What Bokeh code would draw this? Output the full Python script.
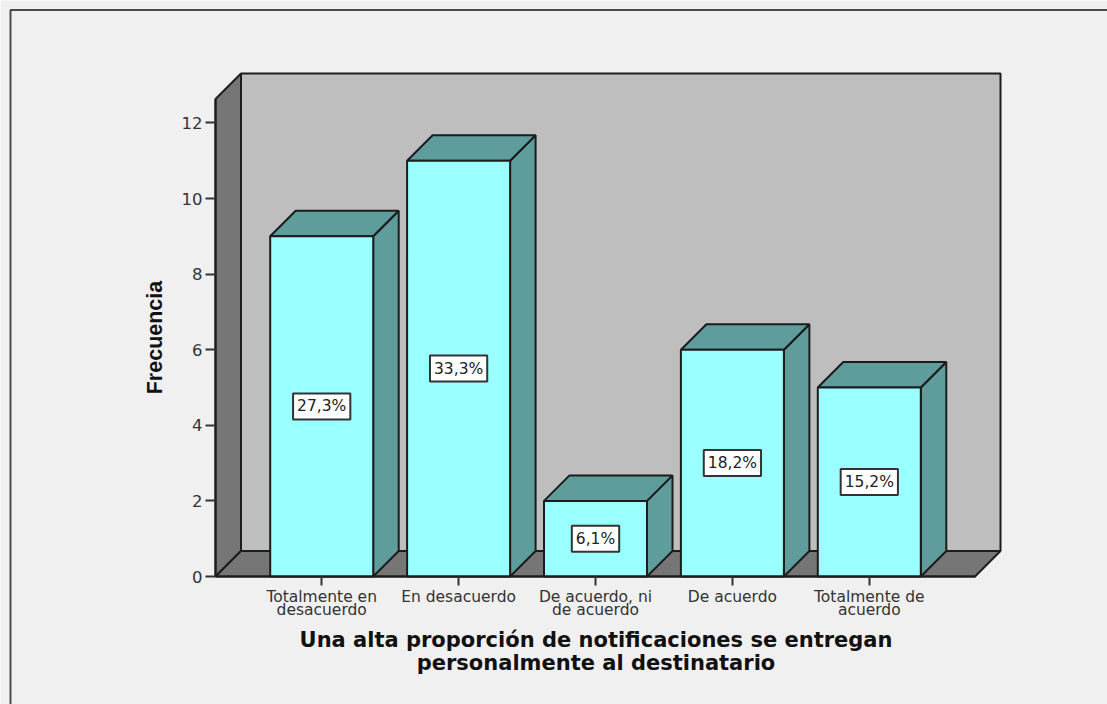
from bokeh.plotting import figure
from bokeh.models import ColumnDataSource, FixedTicker, LinearAxis
from bokeh.core.properties import value
from bokeh.embed import file_html
from bokeh.resources import INLINE

categorias = ["Totalmente en\ndesacuerdo", "En desacuerdo", "De acuerdo, ni\nde acuerdo", "De acuerdo", "Totalmente de\nacuerdo"]
frecuencia = [9, 11, 2, 6, 5]
porcentaje = ["27,3%", "33,3%", "6,1%", "18,2%", "15,2%"]
y_ticks = [0, 2, 4, 6, 8, 10, 12]
titulo_x = "Una alta proporción de notificaciones se entregan\npersonalmente al destinatario"
titulo_y = "Frecuencia"

# Screen geometry (page pixels)
W, H = 1107, 704
FL, FR, FT, FB = 215, 1000, 73, 576
PX_X = 136.9      # px per category
PX_Y = 37.8       # px per count
X0 = 321.2        # px of first category
DEPTH = 25.5      # px of the 3-D offset
BAR_W = 103.0     # px


def dxp(px):
    return (px - X0) / PX_X


def dyp(px):
    return (FB - px) / PX_Y


x_lo, x_hi = dxp(FL), dxp(FR)
y_hi = dyp(FT)
dx = DEPTH / PX_X
dy = DEPTH / PX_Y
bw = BAR_W / PX_X
xs_cat = list(range(len(categorias)))

p = figure(width=W, height=H, output_backend="svg", toolbar_location=None,
           x_range=(dxp(0), dxp(W)), y_range=(dyp(H), dyp(0)),
           min_border=0, min_border_left=0, min_border_right=0, min_border_top=0, min_border_bottom=0,
           background_fill_color="#f0f0f0", border_fill_color="#f0f0f0",
           outline_line_color=None, x_axis_location=None, y_axis_location=None)
p.grid.visible = False

LINE = "#1c1c1c"
WALL = "#bebebe"
DARK = "#767676"
FRONT = "#99ffff"
SIDE = "#5f9c9c"

x_front_end = x_hi - dx
y_top_front = y_hi - dy

# chart border (only left and top edges fall inside the picture)
p.line([dxp(10), dxp(10), dxp(W)], [dyp(H), dyp(9.5), dyp(9.5)], line_color="#4a4a4a", line_width=2)

# back wall, left wall, floor
p.patch([x_lo + dx, x_hi, x_hi, x_lo + dx], [dy, dy, y_hi, y_hi], fill_color=WALL, line_color=LINE, line_width=2)
p.patch([x_lo, x_lo + dx, x_lo + dx, x_lo], [0, dy, y_hi, y_top_front], fill_color=DARK, line_color=LINE, line_width=2)
p.patch([x_lo, x_front_end, x_hi, x_lo + dx], [0, 0, dy, dy], fill_color=DARK, line_color=LINE, line_width=2)

# bars
front_x, front_y, top_x, top_y, side_x, side_y = [], [], [], [], [], []
for c, v in zip(xs_cat, frecuencia):
    l, r = c - bw / 2, c + bw / 2
    front_x.append([l, r, r, l]); front_y.append([0, 0, v, v])
    top_x.append([l, r, r + dx, l + dx]); top_y.append([v, v, v + dy, v + dy])
    side_x.append([r, r + dx, r + dx, r]); side_y.append([0, dy, v + dy, v])
p.patches(side_x, side_y, fill_color=SIDE, line_color=LINE, line_width=2)
p.patches(top_x, top_y, fill_color=SIDE, line_color=LINE, line_width=2)
p.patches(front_x, front_y, fill_color=FRONT, line_color=LINE, line_width=2)

# percentage labels
src = ColumnDataSource(dict(x=xs_cat, y=[v / 2 for v in frecuencia], t=porcentaje))
p.text("x", "y", text="t", source=src, text_align="center", text_baseline="middle",
       text_font=value("DejaVu Sans"), text_font_size="15.5px", text_color="#222222",
       background_fill_color="white", border_line_color="#333333", border_line_width=2,
       padding=4)

# axes
ax = LinearAxis(fixed_location=0)
ax.ticker = FixedTicker(ticks=xs_cat)
ax.major_label_overrides = {i: c for i, c in enumerate(categorias)}
ax.bounds = (x_lo, x_front_end)
ax.major_tick_out = 9
ax.major_tick_in = 0
ax.minor_tick_line_color = None
ax.major_tick_line_color = "#333333"
ax.major_tick_line_width = 2
ax.axis_line_color = LINE
ax.axis_line_width = 2
ax.major_label_standoff = 2
ax.major_label_text_font = "DejaVu Sans"
ax.major_label_text_font_size = "15.5px"
ax.major_label_text_color = "#333333"
ax.major_label_text_line_height = 0.75
p.add_layout(ax, "below")

ay = LinearAxis(fixed_location=x_lo)
ay.ticker = FixedTicker(ticks=y_ticks)
ay.bounds = (0, y_top_front)
ay.major_tick_out = 10
ay.major_tick_in = 0
ay.minor_tick_line_color = None
ay.major_tick_line_color = "#333333"
ay.major_tick_line_width = 2
ay.axis_line_color = LINE
ay.axis_line_width = 2
ay.major_label_standoff = 3
ay.major_label_text_font = "DejaVu Sans"
ay.major_label_text_font_size = "16.5px"
ay.major_label_text_color = "#333333"
p.add_layout(ay, "left")

# axis titles
p.text([dxp(595.5)], [dyp(651)], text=[titulo_x], text_align="center", text_baseline="middle",
       text_font=value("DejaVu Sans"), text_font_style="bold", text_font_size="21px",
       text_color="#111111", text_line_height=0.92)
p.text([dxp(154.5)], [dyp(337)], text=[titulo_y], angle=90, angle_units="deg",
       text_align="center", text_baseline="middle",
       text_font=value("Liberation Sans"), text_font_style="bold", text_font_size="21.5px",
       text_color="#111111")

html = file_html(p, INLINE)
open("out.html", "w").write(html)
